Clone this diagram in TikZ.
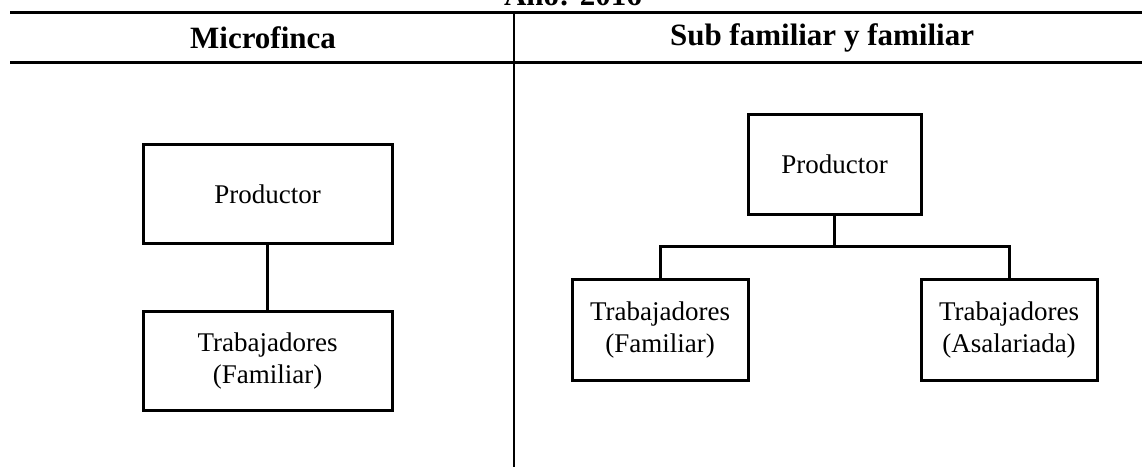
\documentclass[tikz,border=0pt]{standalone}
\usepackage{fontspec}
\setmainfont{Liberation Serif}
\begin{document}
\begin{tikzpicture}[x=1pt,y=-1pt,
  box/.style={draw, line width=3pt, inner sep=0pt, align=center,
    font=\fontsize{27}{32}\selectfont},
  head/.style={font=\fontsize{31}{36}\selectfont\bfseries, inner sep=0pt},
  rule/.style={line width=3pt},
  link/.style={line width=3pt}]
\useasboundingbox (0,0) rectangle (1142,467);
\clip (0,0) rectangle (1142,467);

% table frame
\node[head, anchor=base] (title) at (573,5) {Año: 2016};
\coordinate (tl) at (10,12);   \coordinate (tr) at (1142,12);
\coordinate (hl) at (10,62);   \coordinate (hr) at (1142,62);
\coordinate (vt) at (514,12);  \coordinate (vb) at (514,467);
\draw[rule] (tl) -- (tr);
\draw[rule] (hl) -- (hr);
\draw[line width=2pt] (vt) -- (vb);
\node[head] (h1) at (263,38) {Microfinca};
\node[head] (h2) at (822,38) {Sub familiar y familiar};

% left column
\node[box, minimum width=249, minimum height=99] (lp) at (267.5,194) {Productor};
\node[box, minimum width=249, minimum height=99] (lt) at (267.5,360.5) {Trabajadores\\(Familiar)};
\draw[link] (lp) -- (lt);

% right column
\node[box, minimum width=173, minimum height=100] (rp) at (834.5,164) {Productor};
\node[box, minimum width=176, minimum height=101] (rf) at (660,329.5) {Trabajadores\\(Familiar)};
\node[box, minimum width=176, minimum height=101] (ra) at (1009,329.5) {Trabajadores\\(Asalariada)};
\coordinate (bus) at (834.5,246);
\draw[link] (rp.south) -- (bus);
\draw[link] (rf.north) |- (bus) -| (ra.north);
\end{tikzpicture}
\end{document}
